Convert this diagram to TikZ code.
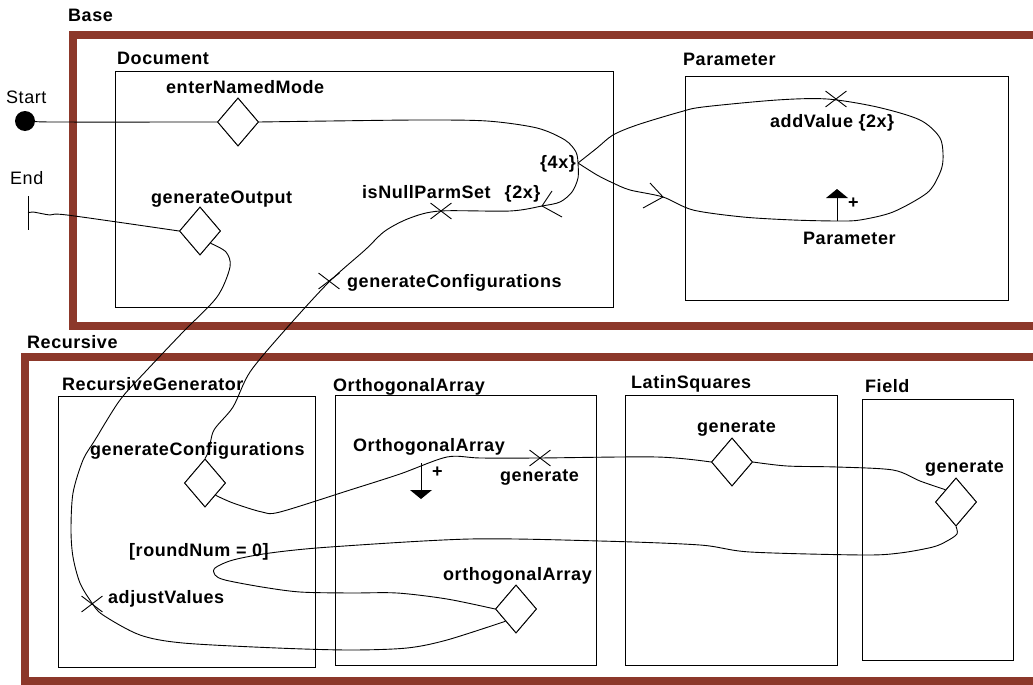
\documentclass[tikz,border=0pt]{standalone}
\usepackage{fontspec}
\setmainfont{Liberation Sans}[LetterSpace=3.0]
\usetikzlibrary{shapes.geometric,shapes.misc}
\definecolor{framebrown}{RGB}{140,56,42}
\tikzset{
  lbl/.style={anchor=base west, inner sep=0pt, font=\fontsize{18}{20}\selectfont\bfseries},
  plainlbl/.style={anchor=base west, inner sep=0pt, font=\fontsize{18}{20}\selectfont},
  comp/.style={draw, line width=0.9pt, anchor=north west, inner sep=0pt},
  frm/.style={draw=framebrown, line width=7.5pt},
  resp/.style={diamond, draw, fill=white, line width=0.9pt, minimum width=41pt, minimum height=48pt, inner sep=0pt},
  tmr/.style={cross out, draw, line width=0.9pt, minimum width=20pt, minimum height=15pt, inner sep=0pt},
  ucm/.style={line width=0.9pt},
  chev/.style={line width=0.9pt},
}
\begin{document}
\begin{tikzpicture}[x=1pt,y=-1pt]
\useasboundingbox (0,0) rectangle (1033,685);

% layer frames
\begin{scope}
  \clip (0,0) rectangle (1033,685);
  \draw[frm] (73,35) rectangle (1050,326);
  \draw[frm] (25,357) rectangle (1050,681);
\end{scope}
\node[lbl] (baselbl) at (68,22) {Base};
\node[lbl] (reclbl) at (27,348) {Recursive};

% components
\node[comp, minimum width=498pt, minimum height=236pt] (doc) at (115,71) {};
\node[lbl] (doclbl) at (117,64) {Document};
\node[comp, minimum width=323pt, minimum height=224pt] (par) at (685,76) {};
\node[lbl] (parlbl) at (683,66) {Parameter};
\node[comp, minimum width=257pt, minimum height=271pt] (rg) at (58,396) {};
\node[lbl] (rglbl) at (62,390) {RecursiveGenerator};
\node[comp, minimum width=261pt, minimum height=270pt] (oabox) at (335,395) {};
\node[lbl] (oalbl) at (333,391) {OrthogonalArray};
\node[comp, minimum width=212pt, minimum height=270pt] (ls) at (625,395) {};
\node[lbl] (lslbl) at (631,388) {LatinSquares};
\node[comp, minimum width=151pt, minimum height=261pt] (fld) at (862,399) {};
\node[lbl] (fldlbl) at (865,392) {Field};

% start / end
\node[circle, fill, minimum size=20pt, inner sep=0pt] (start) at (25,121) {};
\node[plainlbl] (startlbl) at (6,103) {Start};
\coordinate (end) at (28,213);
\draw[line width=0.9pt] (28,196) -- (28,230);
\node[plainlbl] (endlbl) at (10,184) {End};

% responsibilities
\node[resp] (enm) at (238,122) {};
\node[resp] (genout) at (200,231) {};
\node[resp] (gcrg) at (205,483) {};
\node[resp] (oa) at (516,609) {};
\node[resp] (lsgen) at (732,462) {};
\node[resp] (fgen) at (956,502) {};
\coordinate (fork) at (578,163);

% paths
\draw[ucm] plot[smooth, tension=0.5] coordinates {(start.east) (52,122) (enm.west)};
\draw[ucm] plot[smooth, tension=0.5] coordinates {(enm.east) (330,121) (420,120) (487,121) (537,128) (565,140) (576,152) (fork)};
\draw[ucm] plot[smooth, tension=0.5] coordinates {(fork) (578,178) (572,192) (560,202) (542,206) (510,211) (440,211) (410,218) (385,231) (365,250) (329,282) (285,330) (250,372) (233,407) (214,430) (209,450) (gcrg.north)};
\draw[ucm] plot[smooth, tension=0.5] coordinates {(fork) (597,148) (613,135) (637,125) (680,112) (703,107) (777,100) (827,99) (877,107) (920,120) (940,138) (943,160) (939,175) (927,193) (893,212) (860,220) (837,221) (793,220) (743,217) (693,210) (663,197) (630,190) (613,183) (597,175) (fork)};
\draw[ucm] plot[smooth, tension=0.5] coordinates {(gcrg.south east) (233,503) (262,512) (280,512) (350,490) (400,474) (447,457) (480,458) (538,458) (657,457) (lsgen.west)};
\draw[ucm] plot[smooth, tension=0.5] coordinates {(lsgen.east) (787,466) (837,467) (893,470) (920,481) (fgen.north west)};
\draw[ucm] plot[smooth, tension=0.5] coordinates {(fgen.south) (957,534) (947,541) (933,547) (900,553) (863,555) (750,552) (700,545) (600,541) (470,539) (330,547) (270,553) (233,560) (215,568) (215,575) (225,580) (262,587) (300,592) (350,593) (397,593) (447,599) (oa.west)};
\draw[ucm] plot[smooth, tension=0.5] coordinates {(oa.south west) (447,640) (407,648) (350,650) (277,648) (183,643) (140,635) (103,615) (92,603) (80,583) (73,557) (71,530) (73,493) (83,460) (95,440) (120,400) (147,370) (183,332) (217,297) (230,267) (226,252) (genout.south east)};
\draw[ucm] plot[smooth, tension=0.5] coordinates {(genout.west) (67,215) (50,215) (33,212) (end)};

% redraw diamonds on top
\foreach \d in {enm,genout,gcrg,oa,lsgen,fgen}{\node[resp] at (\d.center) {};}

% timers / waiting points
\node[tmr] (tav) at (836,99) {};
\node[tmr] (tnull) at (441,211) {};
\node[tmr] (tgc) at (329,281) {};
\node[tmr] (toa) at (540,458) {};
\node[tmr] (tadj) at (92,604) {};

% direction chevrons
\draw[chev] (552,191) -- (542,206) -- (562,217);
\draw[chev] (650,183) -- (663,197) -- (643,208);

% stubs
\draw[line width=0.9pt] (837,197) -- (837,221);
\fill (826,198) -- (837,189) -- (848,198) -- cycle;
\draw[line width=0.9pt] (421,463) -- (421,490);
\fill (410,490) -- (432,490) -- (421,499) -- cycle;

% labels
\node[lbl] at (166,93) {enterNamedMode};
\node[lbl] at (151,203) {generateOutput};
\node[lbl] at (347,287) {generateConfigurations};
\node[lbl] at (362,198) {isNullParmSet\hspace{14pt}\{2x\}};
\node[lbl] at (540,168) {\{4x\}};
\node[lbl] at (770,127) {addValue \{2x\}};
\node[lbl] at (803,244) {Parameter};
\node[lbl] at (848,208) {+};
\node[lbl] at (90,455) {generateConfigurations};
\node[lbl] at (129,556) {[roundNum = 0]};
\node[lbl] at (108,603) {adjustValues};
\node[lbl] at (353,451) {OrthogonalArray};
\node[lbl] at (432,477) {+};
\node[lbl] at (500,481) {generate};
\node[lbl] at (443,580) {orthogonalArray};
\node[lbl] at (697,432) {generate};
\node[lbl] at (925,472) {generate};
\end{tikzpicture}
\end{document}
